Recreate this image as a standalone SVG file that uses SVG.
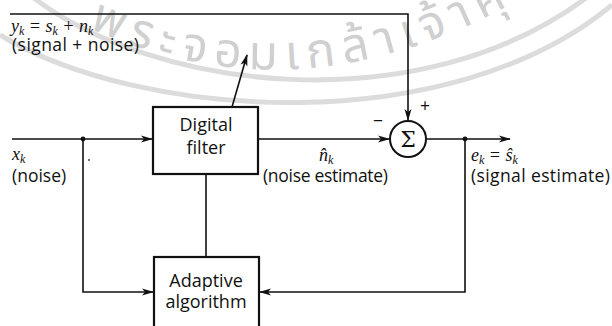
<svg xmlns="http://www.w3.org/2000/svg" width="612" height="326" viewBox="0 0 612 326">
  <style>
    .wire { fill: none; stroke: #111; stroke-width: 1.6; }
    .box { fill: #fff; stroke: #111; stroke-width: 2.2; }
    .lbl { font-family: "Open Sans", "Noto Sans", sans-serif; font-size: 17.5px; fill: #111; }
    .blk { font-family: "Open Sans", "Noto Sans", sans-serif; font-size: 18px; fill: #111; text-anchor: middle; }
    .math { font-family: "Liberation Serif", serif; font-style: italic; font-size: 18px; fill: #111; }
    .sub { font-size: 12px; }
    .wm { fill: none; stroke: #dcdcdc; stroke-width: 5; }
    .wmtext { font-family: "Noto Sans Thai", "Noto Sans", "DejaVu Sans", sans-serif; font-size: 48px; fill: #d0d0d0; letter-spacing: 8px; }
  </style>
  <defs>
    <marker id="arrow" markerUnits="userSpaceOnUse" markerWidth="12" markerHeight="8" refX="11" refY="4" orient="auto">
      <path d="M0,0.5 L12,4 L0,7.5 L3,4 z" fill="#111"/>
    </marker>
    <path id="wmArc" d="M 20,-10 Q 270,150 540,-12"/>
  </defs>
  <rect width="612" height="326" fill="#fff"/>

  <!-- faint seal watermark behind the drawing -->
  <g id="watermark">
    <path class="wm" d="M 30,-5 C 150,90 420,125 590,-5"/>
    <path class="wm" d="M 0,35 C 140,120 450,140 612,5"/>
    <text class="wmtext"><textPath href="#wmArc" startOffset="78">พระจอมเกล้าเจ้าคุณ</textPath></text>
  </g>

  <g id="connectors">
    <!-- primary input y_k over the top into the summer -->
    <path class="wire" d="M10,14 H408 V120" marker-end="url(#arrow)"/>
    <!-- reference input x_k into the filter -->
    <path class="wire" d="M12,139 H152" marker-end="url(#arrow)"/>
    <!-- filter output to summer -->
    <path class="wire" d="M258,139 H389" marker-end="url(#arrow)"/>
    <!-- summer output -->
    <path class="wire" d="M427,139 H510" marker-end="url(#arrow)"/>
    <!-- x_k tap down to the algorithm -->
    <path class="wire" d="M83,139 V292 H153" marker-end="url(#arrow)"/>
    <!-- error feedback to the algorithm -->
    <path class="wire" d="M465,139 V292 H260" marker-end="url(#arrow)"/>
    <!-- weight update path -->
    <path class="wire" d="M206,174 V257"/>
    <!-- adjustable-filter arrow -->
    <path class="wire" d="M232,107 L247,55" marker-end="url(#arrow)"/>
    <circle cx="83" cy="139" r="2.4" fill="#111"/>
    <circle cx="465" cy="139" r="2.4" fill="#111"/>
    <circle cx="89" cy="160" r="0.9" fill="#333"/>
  </g>

  <g id="filter">
    <rect class="box" x="153" y="107" width="105" height="67"/>
    <text class="blk" x="206" y="131">Digital</text>
    <text class="blk" x="206" y="154">filter</text>
  </g>

  <g id="summer">
    <circle cx="408" cy="139" r="18" fill="#fff" stroke="#111" stroke-width="2"/>
    <text x="408" y="147" text-anchor="middle" style="font-family:'DejaVu Serif',serif;font-size:22px;fill:#111">Σ</text>
    <text x="378" y="127" text-anchor="middle" class="lbl">−</text>
    <text x="425" y="112" text-anchor="middle" class="lbl">+</text>
  </g>

  <g id="adaptive">
    <rect class="box" x="154" y="257" width="105" height="72"/>
    <text class="blk" x="206" y="287">Adaptive</text>
    <text class="blk" x="206" y="308">algorithm</text>
  </g>

  <g id="labels">
    <text class="math" x="11" y="32">y<tspan class="sub" dy="3">k</tspan><tspan dy="-3"> = s</tspan><tspan class="sub" dy="3">k</tspan><tspan dy="-3"> + n</tspan><tspan class="sub" dy="3">k</tspan></text>
    <text class="lbl" x="12" y="51" textLength="127">(signal + noise)</text>
    <text class="math" x="12" y="160">x<tspan class="sub" dy="3">k</tspan></text>
    <text class="lbl" x="12" y="182">(noise)</text>
    <text class="math" x="319" y="161">n̂<tspan class="sub" dy="3">k</tspan></text>
    <text class="lbl" x="263" y="182" textLength="125">(noise estimate)</text>
    <text class="math" x="471" y="161">e<tspan class="sub" dy="3">k</tspan><tspan dy="-3"> = ŝ</tspan><tspan class="sub" dy="3">k</tspan></text>
    <text class="lbl" x="471" y="182" textLength="139">(signal estimate)</text>
  </g>
</svg>
